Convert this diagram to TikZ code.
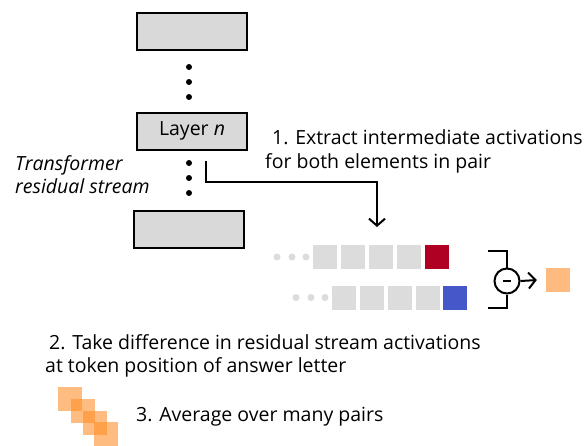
\documentclass[tikz,border=0pt]{standalone}
\usepackage{fontspec}
\setmainfont{Open Sans}
\usetikzlibrary{arrows.meta}
\definecolor{boxgray}{HTML}{D9D9D9}
\definecolor{tokgray}{HTML}{DCDCDC}
\definecolor{tokred}{HTML}{AF0023}
\definecolor{tokblue}{HTML}{4557C9}
\definecolor{orng}{HTML}{FFBB7F}
\definecolor{stair}{RGB}{255,140,36}
\begin{document}
\begin{tikzpicture}[x=1pt,y=-1pt,
  font=\fontsize{19.5}{23}\selectfont,
  layerbox/.style={draw=black, line width=2pt, fill=boxgray, minimum width=110pt, minimum height=37pt, inner sep=0pt, outer sep=0pt},
  tok/.style={fill=tokgray, minimum size=24pt, inner sep=0pt},
  bdot/.style={circle, fill=black, minimum size=6pt, inner sep=0pt},
  ldot/.style={circle, fill=tokgray, minimum size=7pt, inner sep=0pt},
  stairsq/.style={fill=stair, fill opacity=0.58, minimum size=24pt, inner sep=0pt},
  lbl/.style={anchor=base west, inner sep=0pt},
  conn/.style={draw=black, line width=2pt},
  barb/.style={-{Straight Barb[length=7pt,width=16pt,line width=2pt]}}]
\useasboundingbox (0,0) rectangle (585,445);
% layer stack
\node[layerbox] (top) at (192,31.5) {};
\node[bdot] (d1) at (189,67) {};
\node[bdot] (d2) at (189,82) {};
\node[bdot] (d3) at (189,97) {};
\node[layerbox] (layer) at (192,131) {Layer \textit{n}};
\node[bdot] (d4) at (189,163) {};
\node[bdot] (d5) at (189,178) {};
\node[bdot] (d6) at (189,193) {};
\node[layerbox] (bot) at (189,229) {};
% labels
\node[lbl] (t1a) at (15,170) {\textit{Transformer}};
\node[lbl] (t1b) at (15,193) {\textit{residual stream}};
\node[lbl] (s1a) at (272,144) {1. Extract intermediate activations};
\node[lbl] (s1b) at (265,168) {for both elements in pair};
\node[lbl] (s2a) at (49,349) {2. Take difference in residual stream activations};
\node[lbl] (s2b) at (45,372) {at token position of answer letter};
\node[lbl] (s3) at (136,421) {3. Average over many pairs};
% connector
\coordinate (cs) at (206,161);
\coordinate (cm) at (206,182);
\coordinate (ce) at (377,227);
\draw[conn, barb] (cs) -- (cm) -| (ce);
% token rows
\node[ldot] (a1) at (277,257) {};
\node[ldot] (a2) at (292,257) {};
\node[ldot] (a3) at (306,257) {};
\node[tok] (r1) at (325,257) {};
\node[tok] (r2) at (353,257) {};
\node[tok] (r3) at (381,257) {};
\node[tok] (r4) at (409,257) {};
\node[tok, fill=tokred] (r5) at (437,257) {};
\node[ldot] (b1) at (296,297.5) {};
\node[ldot] (b2) at (311,297.5) {};
\node[ldot] (b3) at (325,297.5) {};
\node[tok] (q1) at (344,297.5) {};
\node[tok] (q2) at (372,297.5) {};
\node[tok] (q3) at (400,297.5) {};
\node[tok] (q4) at (428,297.5) {};
\node[tok, fill=tokblue] (q5) at (455,297.5) {};
% difference
\node[circle, draw=black, line width=2pt, minimum size=25pt, inner sep=0pt] (minus) at (507,281) {};
\coordinate (m1) at (502.5,281);
\coordinate (m2) at (511,281);
\draw[conn] (m1) -- (m2);
\coordinate (bt1) at (488,251);
\coordinate (bt2) at (488,308);
\draw[conn] (minus.north) |- (bt1);
\draw[conn] (minus.south) |- (bt2);
\node[fill=orng, minimum size=24pt, inner sep=0pt] (out) at (558,279.5) {};
\draw[conn, barb, shorten >=9pt] (minus.east) -- (out.west);
% staircase
\node[stairsq] (p1) at (70,399) {};
\node[stairsq] (p2) at (82.5,411) {};
\node[stairsq] (p3) at (94.5,422.5) {};
\node[stairsq] (p4) at (106,434) {};
\end{tikzpicture}
\end{document}
